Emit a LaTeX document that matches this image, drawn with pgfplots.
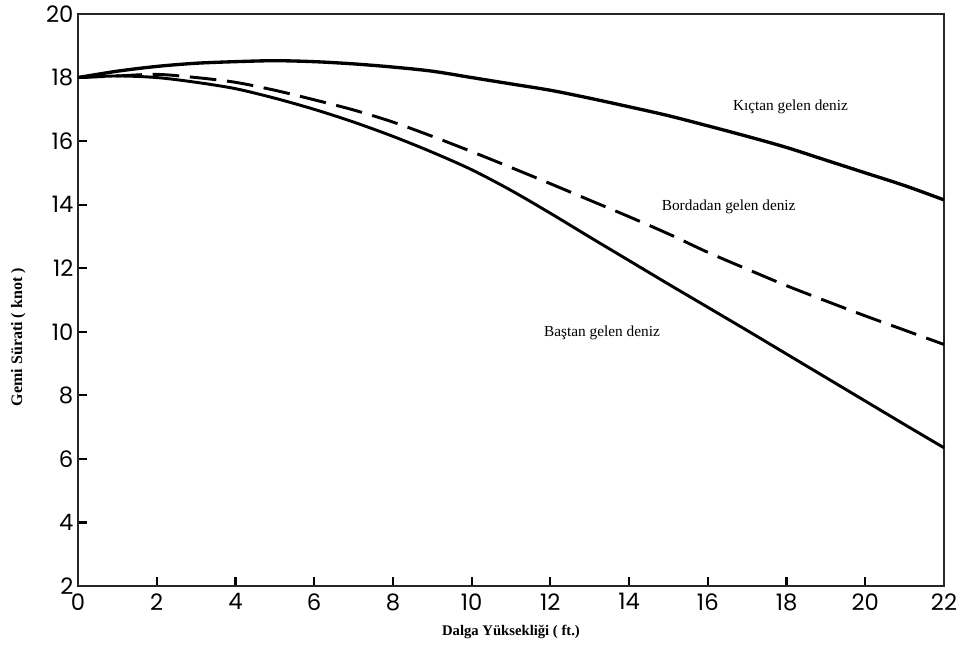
\documentclass[border=0pt]{standalone}
\usepackage{fontspec}
\setmainfont{Liberation Serif}
\newfontfamily\tickfont{Poppins}
\usepackage{pgfplots}
\pgfplotsset{compat=1.18}

\begin{document}
\begin{tikzpicture}
  \begin{axis}[
    scale only axis,
    width=649.5pt, height=429pt,
    xmin=0, xmax=22, ymin=2, ymax=20,
    xtick={0,2,...,22}, ytick={2,4,...,20},
    xtick pos=bottom, ytick pos=left,
    tick align=inside,
    major tick length=7pt,
    every tick/.style={black, line width=1.6pt},
    axis line style={line width=2pt, black!85},
    tick label style={font=\tickfont\fontsize{17}{17}\selectfont},
    /pgf/number format/assume math mode=true,
    xticklabel style={yshift=-2pt},
    clip=false,
  ]
  % Kictan gelen deniz
  \addplot[black, line width=2.5pt, smooth] coordinates {
    (0,18.0)(1,18.2)(2,18.35)(3,18.45)(4,18.5)(5,18.53)(6,18.5)(7,18.43)
    (8,18.33)(9,18.2)(10,18.0)(11,17.8)(12,17.6)(13,17.35)(14,17.08)
    (15,16.8)(16,16.48)(17,16.15)(18,15.8)(19,15.4)(20,15.0)(21,14.6)(22,14.15)
  };
  % Bordadan gelen deniz
  \addplot[black, line width=2.2pt, smooth, dash pattern=on 20pt off 8pt] coordinates {
    (0,18.0)(1,18.05)(2,18.1)(3,18.0)(4,17.85)(5,17.6)(6,17.3)(7,16.98)
    (8,16.6)(9,16.15)(10,15.67)(11,15.17)(12,14.66)(13,14.14)(14,13.62)
    (15,13.08)(16,12.5)(17,11.97)(18,11.45)(19,10.97)(20,10.5)(21,10.05)(22,9.6)
  };
  % Bastan gelen deniz
  \addplot[black, line width=2.2pt, smooth] coordinates {
    (0,18.0)(1,18.05)(2,18.0)(3,17.85)(4,17.65)(5,17.35)(6,17.0)(7,16.6)
    (8,16.15)(9,15.65)(10,15.1)(11,14.45)(12,13.73)(13,12.98)(14,12.24)
    (15,11.5)(16,10.77)(17,10.04)(18,9.3)(19,8.56)(20,7.82)(21,7.08)(22,6.35)
  };
  \node[font=\fontsize{11.5}{13}\selectfont] at (axis cs:18.1,17.08) {Kıçtan gelen deniz};
  \node[font=\fontsize{11.5}{13}\selectfont] at (axis cs:16.53,13.93) {Bordadan gelen deniz};
  \node[font=\fontsize{11.5}{13}\selectfont] at (axis cs:13.31,9.97) {Baştan gelen deniz};
  \node[font=\bfseries\fontsize{12}{14}\selectfont, rotate=90] at (rel axis cs:-0.069,0.435) {Gemi Sürati ( knot )};
  \node[font=\bfseries\fontsize{11}{13}\selectfont] at (rel axis cs:0.5,-0.080) {Dalga Yüksekliği ( ft.)};
  \end{axis}
  \pgfresetboundingbox
  \path[use as bounding box] (-58.5pt,-46.5pt) rectangle (667.5pt,439.5pt);
\end{tikzpicture}
\end{document}
